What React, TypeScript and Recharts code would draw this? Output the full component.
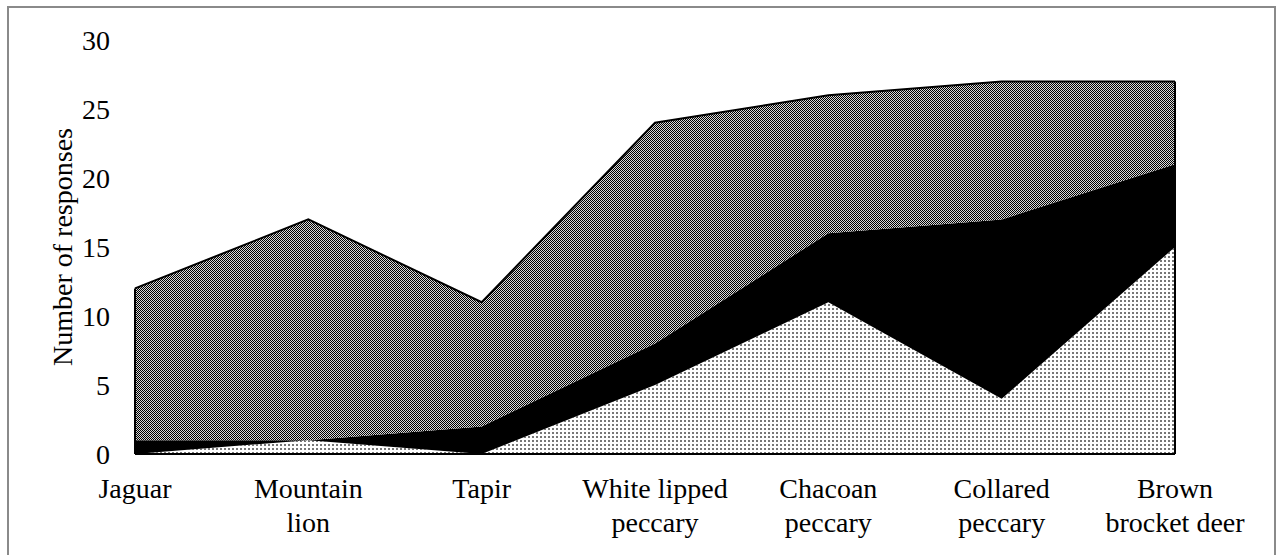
import React from 'react';
import { Area, AreaChart, ReferenceLine, XAxis, YAxis } from 'recharts';

const categories = [
	'Jaguar',
	'Mountain lion',
	'Tapir',
	'White lipped peccary',
	'Chacoan peccary',
	'Collared peccary',
	'Brown brocket deer',
];

// how each category label breaks onto lines
const tickLines = [
	['Jaguar'],
	['Mountain', 'lion'],
	['Tapir'],
	['White lipped', 'peccary'],
	['Chacoan', 'peccary'],
	['Collared', 'peccary'],
	['Brown', 'brocket deer'],
];

const lowValues = [0, 1, 0, 5, 11, 4, 15];
const midValues = [1, 0, 2, 3, 5, 13, 6];
const highValues = [11, 16, 9, 16, 10, 10, 6];

const yTicks = [0, 5, 10, 15, 20, 25, 30];

const data = categories.map((name, i) => ({
	name,
	low: lowValues[i],
	mid: midValues[i],
	high: highValues[i],
}));

const totals = categories.map((_, i) => lowValues[i] + midValues[i] + highValues[i]);

const FONT = "'Liberation Serif', 'Times New Roman', serif";

const CategoryTick = (props: any) => {
	const { x, y, payload } = props;
	const idx = categories.indexOf(payload.value);
	const lines = tickLines[idx] || [payload.value];
	return (
		<text
			x={x}
			y={y}
			textAnchor="middle"
			style={{ fontFamily: FONT, fontSize: 28 }}
			fill="#000">
			{lines.map((line, i) => (
				<tspan key={i} x={x} dy={i === 0 ? '0.71em' : 34}>
					{line}
				</tspan>
			))}
		</text>
	);
};

const YTitle = (props: any) => {
	const { viewBox } = props;
	const cx = viewBox.x + 62;
	const cy = viewBox.y + viewBox.height / 2;
	return (
		<text
			x={cx}
			y={cy}
			transform={`rotate(-90, ${cx}, ${cy})`}
			textAnchor="middle"
			dominantBaseline="central"
			style={{ fontFamily: FONT, fontSize: 28 }}
			fill="#000">
			Number of responses
		</text>
	);
};

const App: React.FC = () => {
	const first = categories[0];
	const last = categories[categories.length - 1];
	return (
		<div
			style={{
				position: 'absolute',
				left: 0,
				top: 0,
				width: 1276,
				height: 555,
				overflow: 'hidden',
				background: '#fff',
				fontFamily: FONT,
			}}>
			<div
				style={{
					position: 'absolute',
					left: 7,
					top: 6,
					width: 1265,
					height: 600,
					border: '2px solid #8a8a8a',
				}}
			/>
			<div style={{ position: 'absolute', left: 0, top: 0 }}>
				<AreaChart
					width={1276}
					height={555}
					data={data}
					margin={{ top: 40, right: 101, left: 0, bottom: 0 }}>
					<defs>
						<pattern id="patHigh" width="2" height="2" patternUnits="userSpaceOnUse">
							<rect width="2" height="2" fill="#d8d8d8" />
							<rect x="0" y="0" width="1" height="1" fill="#000" />
							<rect x="1" y="1" width="1" height="1" fill="#000" />
						</pattern>
						<pattern id="patLow" width="4" height="4" patternUnits="userSpaceOnUse">
							<rect width="4" height="4" fill="#fff" />
							<rect x="0" y="0" width="2" height="2" fill="#777" />
						</pattern>
					</defs>
					<XAxis
						dataKey="name"
						interval={0}
						height={101}
						tickLine={false}
						tickSize={0}
						tickMargin={24}
						axisLine={{ stroke: '#000', strokeWidth: 2 }}
						tick={<CategoryTick />}
					/>
					<YAxis
						width={135}
						domain={[0, 30]}
						ticks={yTicks}
						axisLine={false}
						tickLine={false}
						tickSize={0}
						tickMargin={25}
						tick={{ fontSize: 28, fontFamily: FONT, fill: '#000' }}
						label={{ content: <YTitle /> }}
					/>
					<Area
						type="linear"
						dataKey="low"
						stackId="a"
						stroke="none"
						fill="url(#patLow)"
						fillOpacity={1}
						isAnimationActive={false}
					/>
					<Area
						type="linear"
						dataKey="mid"
						stackId="a"
						stroke="none"
						fill="#000"
						fillOpacity={1}
						isAnimationActive={false}
					/>
					<Area
						type="linear"
						dataKey="high"
						stackId="a"
						stroke="#000"
						strokeWidth={2}
						fill="url(#patHigh)"
						fillOpacity={1}
						isAnimationActive={false}
					/>
					<ReferenceLine
						segment={[
							{ x: first, y: 0 },
							{ x: first, y: totals[0] },
						]}
						stroke="#000"
						strokeWidth={2}
					/>
					<ReferenceLine
						segment={[
							{ x: last, y: 0 },
							{ x: last, y: totals[totals.length - 1] },
						]}
						stroke="#000"
						strokeWidth={2}
					/>
				</AreaChart>
			</div>
		</div>
	);
};

export default App;
